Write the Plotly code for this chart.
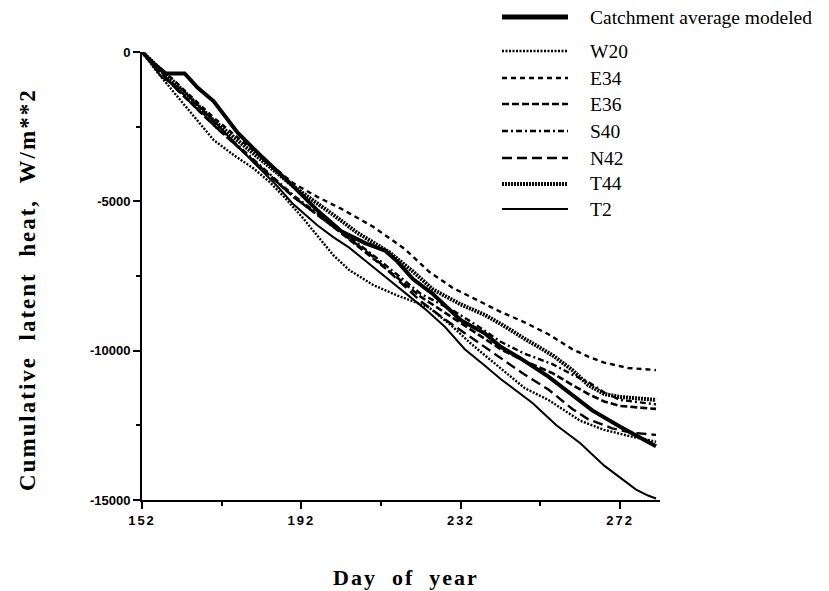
import plotly.graph_objects as go

# ---------------- data ----------------
catch_days = [152, 155, 158, 162.7, 166, 170, 176, 182, 190, 196, 202, 208, 213, 216, 220, 225, 232, 238, 242, 247, 254, 262, 265, 272, 281]
catch_vals = [0, -400, -720, -720, -1200, -1650, -2700, -3500, -4500, -5300, -6000, -6400, -6650, -7000, -7600, -8100, -8980, -9420, -9870, -10260, -10870, -11720, -12000, -12550, -13200]

w20_days = [152, 156, 160, 164, 170, 175, 180, 184, 188, 192, 196, 200, 204, 210, 216, 224, 230, 234, 238, 242, 248, 254, 258, 262, 268, 274, 281]
w20_vals = [0, -700, -1350, -2000, -2950, -3450, -3900, -4350, -4900, -5500, -6150, -6800, -7300, -7800, -8150, -8550, -9200, -9700, -10150, -10600, -11250, -11650, -12000, -12350, -12650, -12850, -13050]

e34_days = [152, 160, 170, 180, 190, 196, 202, 210, 218, 224, 230, 236, 242, 248, 254, 260, 264, 268, 274, 281]
e34_vals = [0, -950, -2200, -3300, -4400, -4850, -5250, -5850, -6600, -7350, -7900, -8300, -8700, -9050, -9450, -9950, -10200, -10400, -10580, -10650]

e36_days = [152, 160, 170, 180, 190, 200, 210, 216, 222, 230, 236, 242, 248, 255, 260, 264, 268, 272, 281]
e36_vals = [0, -1150, -2450, -3650, -4850, -5850, -6900, -7550, -8200, -8900, -9450, -9950, -10350, -10750, -11150, -11450, -11700, -11850, -11950]

s40_days = [152, 160, 170, 180, 190, 200, 210, 216, 222, 230, 236, 242, 248, 255, 260, 264, 268, 272, 281]
s40_vals = [0, -1100, -2400, -3600, -4800, -5800, -6800, -7450, -8100, -8650, -9150, -9700, -10100, -10450, -10800, -11050, -11400, -11650, -11800]

n42_days = [152, 160, 170, 180, 190, 200, 210, 216, 222, 228, 234, 242, 248, 254, 260, 264, 270, 275, 281]
n42_vals = [0, -1150, -2450, -3650, -4850, -5850, -6850, -7600, -8350, -8950, -9500, -10250, -10800, -11300, -11950, -12300, -12600, -12750, -12820]

t44_days = [152, 160, 170, 180, 190, 200, 206, 214, 220, 225, 232, 238, 242, 248, 255, 260, 264, 268, 272, 281]
t44_vals = [0, -1000, -2300, -3400, -4500, -5450, -6050, -6700, -7350, -7950, -8450, -8800, -9100, -9600, -10150, -10650, -11150, -11450, -11550, -11650]

t2_days = [152, 157, 162, 170, 180, 186, 190, 196, 200, 204, 210, 216, 223, 228, 233, 238, 242, 250, 256, 262, 268, 272, 276, 279, 281]
t2_vals = [0, -850, -1250, -2300, -3700, -4500, -5100, -5800, -6200, -6550, -7200, -7850, -8600, -9200, -9950, -10500, -10950, -11750, -12500, -13100, -13850, -14250, -14650, -14850, -14950]

series_names = ["Catchment average modeled", "W20", "E34", "E36", "S40", "N42", "T44", "T2"]

x_tickvals = [152, 192, 232, 272]
x_ticktext = ["152", "192", "232", "272"]
y_tickvals = [0, -5000, -10000, -15000]
y_ticktext = ["0", "-5000", "-10000", "-15000"]

# ---------------- styling ----------------
styles = [
    dict(width=4.0, dash="solid"),
    dict(width=2.4, dash="2px,1.5px"),
    dict(width=2.4, dash="5px,4px"),
    dict(width=2.6, dash="7px,3px"),
    dict(width=2.4, dash="6px,3px,2px,3px"),
    dict(width=2.4, dash="10px,5px"),
    dict(width=4.0, dash="2px,1px"),
    dict(width=2.0, dash="solid"),
]

W, H = 829, 591
OFF = 8  # page body margin in the browser
# plot area in screenshot pixels: x 142..660, y 52..500
PX0, PX1, PY0, PY1 = 142 - OFF, 660 - OFF, 52 - OFF, 500 - OFF
L, R, T, B = PX0, W - PX1, PY0, H - PY1
PW, PH = PX1 - PX0, PY1 - PY0


def to_paper(px, py):
    """screenshot pixel -> paper coords"""
    px -= OFF
    py -= OFF
    return (px - PX0) / PW, (PY1 - py) / PH


def spaced(s, sp):
    return "<span style='letter-spacing:%spx'>%s</span>" % (sp, s)


fig = go.Figure()
data = [
    (catch_days, catch_vals), (w20_days, w20_vals), (e34_days, e34_vals),
    (e36_days, e36_vals), (s40_days, s40_vals), (n42_days, n42_vals),
    (t44_days, t44_vals), (t2_days, t2_vals),
]
for (d, v), name, st in zip(data, series_names, styles):
    fig.add_trace(go.Scatter(x=d, y=v, mode="lines", name=name,
                             line=dict(color="black", width=st["width"], dash=st["dash"]),
                             showlegend=False))

# manual legend
legend_rows_y = [17, 51, 78, 104, 131, 158, 184, 209]
shapes = []
annotations = []
for name, st, ry in zip(series_names, styles, legend_rows_y):
    x0, y0 = to_paper(502, ry)
    x1, _ = to_paper(568, ry)
    shapes.append(dict(type="line", xref="paper", yref="paper", x0=x0, x1=x1, y0=y0, y1=y0,
                       line=dict(color="black", width=st["width"] + (0.8 if st["dash"] == "solid" and st["width"] > 3 else 0),
                                 dash=st["dash"])))
    tx, ty = to_paper(588, ry)
    annotations.append(dict(xref="paper", yref="paper", x=tx, y=ty, text=name, showarrow=False,
                            xanchor="left", yanchor="middle",
                            font=dict(family="Liberation Serif", size=19.5, color="black")))

# axis titles
ax, ay = to_paper(406, 577)
annotations.append(dict(xref="paper", yref="paper", x=ax, y=ay, showarrow=False,
                        text="<b>" + spaced("Day\u00a0\u00a0of\u00a0\u00a0year", 2) + "</b>",
                        xanchor="center", yanchor="middle",
                        font=dict(family="Liberation Serif", size=22, color="black")))
bx, by = to_paper(27, 290)
annotations.append(dict(xref="paper", yref="paper", x=bx, y=by, showarrow=False, textangle=-90,
                        text="<b>" + spaced("Cumulative\u00a0\u00a0latent\u00a0\u00a0heat,\u00a0\u00a0W/m**2", 2) + "</b>",
                        xanchor="center", yanchor="middle",
                        font=dict(family="Liberation Serif", size=23, color="black")))

tickfont = dict(family="Liberation Sans", size=13, color="black", weight="bold")
fig.update_layout(
    width=W, height=H,
    margin=dict(l=L, r=R, t=T, b=B, autoexpand=False),
    paper_bgcolor="white", plot_bgcolor="white",
    shapes=shapes, annotations=annotations,
    xaxis=dict(range=[152, 282], tickvals=x_tickvals,
               ticktext=[spaced(t, 2) for t in x_ticktext],
               showline=True, linecolor="black", linewidth=2, ticks="outside",
               ticklen=7, tickwidth=2, tickcolor="black", showgrid=False, zeroline=False,
               tickfont=tickfont,
               minor=dict(tickvals=[172, 212, 252], ticks="outside", ticklen=4, tickwidth=2,
                          tickcolor="black", showgrid=False)),
    yaxis=dict(range=[-15000, 0], tickvals=y_tickvals, ticktext=y_ticktext,
               showline=True, linecolor="black", linewidth=2, ticks="outside",
               ticklen=7, tickwidth=2, tickcolor="black", showgrid=False, zeroline=False,
               tickfont=tickfont,
               minor=dict(tickvals=[-2500, -7500, -12500], ticks="outside", ticklen=4, tickwidth=2,
                          tickcolor="black", showgrid=False)),
)

fig.write_html("out.html")
